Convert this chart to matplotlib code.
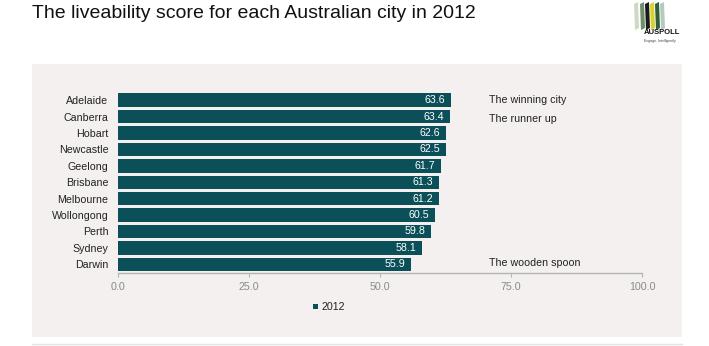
import matplotlib
matplotlib.use("Agg")
import matplotlib.pyplot as plt
from matplotlib.patches import Rectangle, Polygon

plt.rcParams['font.family'] = ['Liberation Sans', 'DejaVu Sans']

cities = ["Adelaide", "Canberra", "Hobart", "Newcastle", "Geelong", "Brisbane",
          "Melbourne", "Wollongong", "Perth", "Sydney", "Darwin"]
scores = [63.6, 63.4, 62.6, 62.5, 61.7, 61.3, 61.2, 60.5, 59.8, 58.1, 55.9]
xticks = [0, 25, 50, 75, 100]
series_name = "2012"
notes = {"Adelaide": "The winning city", "Canberra": "The runner up", "Darwin": "The wooden spoon"}

W, H = 709, 346
FS = 7.7
fig = plt.figure(figsize=(W / 100, H / 100), dpi=100)
fig.patch.set_facecolor("white")

# panel background
fig.patches.append(Rectangle((32 / W, 1 - 337 / H), (682 - 32) / W, (337 - 64) / H,
                             transform=fig.transFigure, facecolor="#f3f0ef",
                             edgecolor="none", zorder=-10))
fig.add_artist(plt.Line2D([32 / W, 682 / W], [1 - 344 / H, 1 - 344 / H],
                          transform=fig.transFigure, color="#e6e3e3", lw=1.0, zorder=-10))

fig.text(32 / W, 1 - 14 / H, "The liveability score for each Australian city in 2012",
         fontsize=14, ha="left", va="center", color="#111111")

left, right = 118 / W, 642 / W
bottom, top = 1 - 272.5 / H, 1 - 92 / H
ax = fig.add_axes([left, bottom, right - left, top - bottom])
ax.set_facecolor("none")
ax.set_zorder(5)

bar_color = "#0b5059"
y = list(range(len(cities)))
ax.barh(y, scores, height=0.82, color=bar_color, edgecolor="none", zorder=2)
ax.set_ylim(len(cities) - 0.5, -0.5)
ax.set_xlim(0, 100)
ax.set_yticks(y)
ax.set_yticklabels(cities, fontsize=FS, color="#222222")
ax.set_xticks(xticks)
ax.set_xticklabels([f"{t:.1f}" for t in xticks], fontsize=FS, color="#8a8a8a")
for s in ["top", "right", "left"]:
    ax.spines[s].set_visible(False)
ax.spines["bottom"].set_color("#b5b5b5")
ax.spines["bottom"].set_linewidth(1.0)
ax.tick_params(axis="y", length=0, pad=7)
ax.tick_params(axis="x", length=3, color="#b5b5b5", pad=3.5)

for yi, v in zip(y, scores):
    ax.text(v - 1.1, yi, f"{v:.1f}", color="white", fontsize=FS, ha="right", va="center")

for yi, c in zip(y, cities):
    if c in notes:
        dy = 0.15 if c == "Canberra" else (-0.1 if c == "Darwin" else 0)
        ax.text(70.8, yi + dy, notes[c], fontsize=FS, ha="left", va="center", color="#222222")

# legend
fig.patches.append(Rectangle((313.2 / W, 1 - 309 / H), 5 / W, 5 / H,
                             transform=fig.transFigure, facecolor=bar_color, edgecolor="none"))
fig.text(321 / W, 1 - 306.7 / H, series_name, fontsize=FS, ha="left", va="center", color="#222222")

# logo (approximation)
logo_bars = [(634, "#c9dcc3"), (640, "#6d8f6a"), (645, "#1a1a1a"), (650, "#d8d32a"),
             (655, "#2f5e3d"), (660, "#b8c9c0")]
for x0, col in logo_bars:
    fig.patches.append(Polygon([(x0 / W, 1 - 4 / H), ((x0 + 4) / W, 1 - 2 / H),
                                ((x0 + 5) / W, 1 - 28 / H), ((x0 + 1) / W, 1 - 30 / H)],
                               closed=True, transform=fig.transFigure,
                               facecolor=col, edgecolor="none"))
fig.text(644 / W, 1 - 33 / H, "AUSPOLL", fontsize=5.5, fontweight="bold",
         ha="left", va="center", color="#111111", fontstretch="condensed")
fig.text(644 / W, 1 - 41 / H, "Engage. Intelligently", fontsize=2.5,
         ha="left", va="center", color="#444444")

fig.savefig("out.png", dpi=100, facecolor="white")
